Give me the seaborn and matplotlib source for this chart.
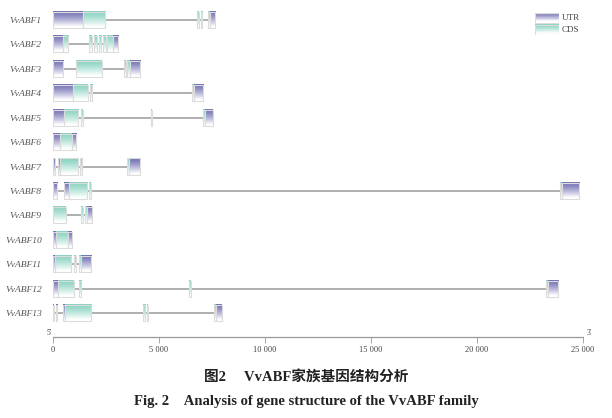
import numpy as np
import matplotlib
matplotlib.use("Agg")
import matplotlib.pyplot as plt
from matplotlib.patches import Rectangle
from matplotlib.colors import to_rgb
import seaborn as sns

# gene names (top to bottom)
genes = ["VvABF1", "VvABF2", "VvABF3", "VvABF4", "VvABF5", "VvABF6", "VvABF7",
         "VvABF8", "VvABF9", "VvABF10", "VvABF11", "VvABF12", "VvABF13"]

# exon pieces: (start bp, end bp, kind)
vvabf1 = [(0, 1430, "UTR"), (1430, 2470, "CDS"), (6810, 6900, "CDS"), (6965, 7030, "CDS"),
          (7330, 7395, "CDS"), (7395, 7640, "UTR")]
vvabf2 = [(0, 457, "UTR"), (457, 722, "CDS"), (1714, 1855, "CDS"), (1934, 2075, "CDS"),
          (2155, 2280, "CDS"), (2343, 2484, "CDS"), (2563, 2846, "CDS"), (2846, 3082, "UTR")]
vvabf3 = [(0, 487, "UTR"), (1085, 2295, "CDS"), (3350, 3430, "CDS"), (3490, 3630, "CDS"),
          (3630, 4120, "UTR")]
vvabf4 = [(0, 960, "UTR"), (960, 1635, "CDS"), (1730, 1825, "CDS"), (6570, 6640, "CDS"),
          (6640, 7090, "UTR")]
vvabf5 = [(0, 503, "UTR"), (503, 1165, "CDS"), (1335, 1400, "CDS"), (4610, 4655, "CDS"),
          (7090, 7155, "CDS"), (7155, 7530, "UTR")]
vvabf6 = [(0, 330, "UTR"), (330, 910, "CDS"), (910, 1100, "UTR")]
vvabf7 = [(0, 80, "UTR"), (220, 345, "UTR"), (345, 1165, "CDS"), (1260, 1355, "CDS"),
          (3505, 3570, "CDS"), (3570, 4090, "UTR")]
vvabf8 = [(0, 205, "UTR"), (535, 740, "UTR"), (740, 1590, "CDS"), (1700, 1780, "CDS"),
          (23915, 24010, "CDS"), (24010, 24825, "UTR")]
vvabf9 = [(0, 613, "CDS"), (1335, 1415, "CDS"), (1495, 1590, "CDS"), (1590, 1825, "UTR")]
vvabf10 = [(0, 140, "UTR"), (140, 722, "CDS"), (722, 896, "UTR")]
vvabf11 = [(0, 94, "UTR"), (94, 850, "CDS"), (990, 1070, "CDS"), (1210, 1305, "CDS"),
           (1305, 1780, "UTR")]
vvabf12 = [(0, 250, "UTR"), (250, 990, "CDS"), (1240, 1335, "CDS"), (6430, 6495, "CDS"),
           (23255, 23335, "CDS"), (23335, 23835, "UTR")]
vvabf13 = [(0, 47, "UTR"), (140, 205, "UTR"), (490, 550, "UTR"), (550, 1780, "CDS"),
           (4260, 4355, "CDS"), (4420, 4465, "CDS"), (7610, 7675, "CDS"), (7675, 7955, "UTR")]

structures = [vvabf1, vvabf2, vvabf3, vvabf4, vvabf5, vvabf6, vvabf7,
              vvabf8, vvabf9, vvabf10, vvabf11, vvabf12, vvabf13]

x_ticks = [0, 5000, 10000, 15000, 20000, 25000]
tick_labels = ["0", "5 000", "10 000", "15 000", "20 000", "25 000"]

colors = {"UTR": "#7470b4", "CDS": "#88d3c1"}


def gradient(c, n=60):
    # colour at top fading to white at the bottom
    c = np.array(to_rgb(c))
    t = np.clip(np.linspace(0, 1.1, n), 0, 1)[:, None] ** 1.3
    img = c[None, :] * (1 - t) + np.ones(3)[None, :] * t
    return img[:, None, :]


sns.set_theme(style="white")
plt.rcParams["font.family"] = ["Liberation Serif", "Noto Sans CJK SC"]

fig = plt.figure(figsize=(6.12, 4.18), dpi=100)
ax = fig.add_axes([53 / 612, 1 - 337 / 418, 530 / 612, 332 / 418])

h = 0.33
for i, exons in enumerate(structures):
    start = min(e[0] for e in exons)
    end = max(e[1] for e in exons)
    ax.plot([start, end], [i, i], color="#a9a9a9", lw=1.3, zorder=1, solid_capstyle="butt")
    for s, e, kind in exons:
        ax.imshow(gradient(colors[kind]), extent=(s, e, i + h, i - h), origin="upper",
                  aspect="auto", interpolation="bilinear", zorder=2)
        ax.add_patch(Rectangle((s, i - h), e - s, 2 * h, fill=False,
                               edgecolor="#dcdcdc", lw=0.8, zorder=3))

ybottom = 12 + 24 * 12 / 293
ax.set_xlim(0, 25000)
ax.set_ylim(ybottom, -15 * 12 / 293)
ax.set_aspect("auto")

ax.set_yticks(range(len(genes)))
ax.set_yticklabels(genes, fontstyle="italic", fontsize=6.8, color="#555555")
ax.tick_params(axis="y", length=0, pad=8)

ax.set_xticks(x_ticks)
ax.set_xticklabels(tick_labels, fontsize=6, color="#444444")
ax.tick_params(axis="x", length=4.5, width=0.6, color="#999999", pad=2, bottom=True)

sns.despine(ax=ax, left=True)
ax.spines["bottom"].set_color("#999999")
ax.spines["bottom"].set_linewidth(0.9)

ax.text(-80, ybottom, "5'", ha="right", va="bottom", fontsize=5.5, color="#444444")
ax.text(25150, ybottom, "3'", ha="left", va="bottom", fontsize=5.5, color="#444444")

# legend
lax = fig.add_axes([535 / 612, 1 - 35 / 418, 24 / 612, 22 / 418])
lax.set_xlim(0, 1)
lax.set_ylim(22, 0)
lax.axis("off")
for kind, y0 in [("UTR", 0), ("CDS", 12)]:
    lax.imshow(gradient(colors[kind]), extent=(0, 1, y0 + 9.5, y0), origin="upper",
               aspect="auto", interpolation="bilinear")
    lax.add_patch(Rectangle((0, y0), 1, 9.5, fill=False, edgecolor="#dcdcdc", lw=0.8))
    fig.text(562 / 612, 1 - (y0 + 18) / 418, kind, fontsize=6.5, color="#444444", va="center")

fig.text(0.5, 1 - 377 / 418, "图2　 VvABF家族基因结构分析", ha="center", va="center",
         fontsize=10.5, fontweight="bold", color="#222222")
fig.text(0.5, 1 - 401 / 418, "Fig. 2　Analysis of gene structure of the VvABF family",
         ha="center", va="center", fontsize=10.5, fontweight="bold", color="#222222")

fig.savefig("out.png", dpi=100)
